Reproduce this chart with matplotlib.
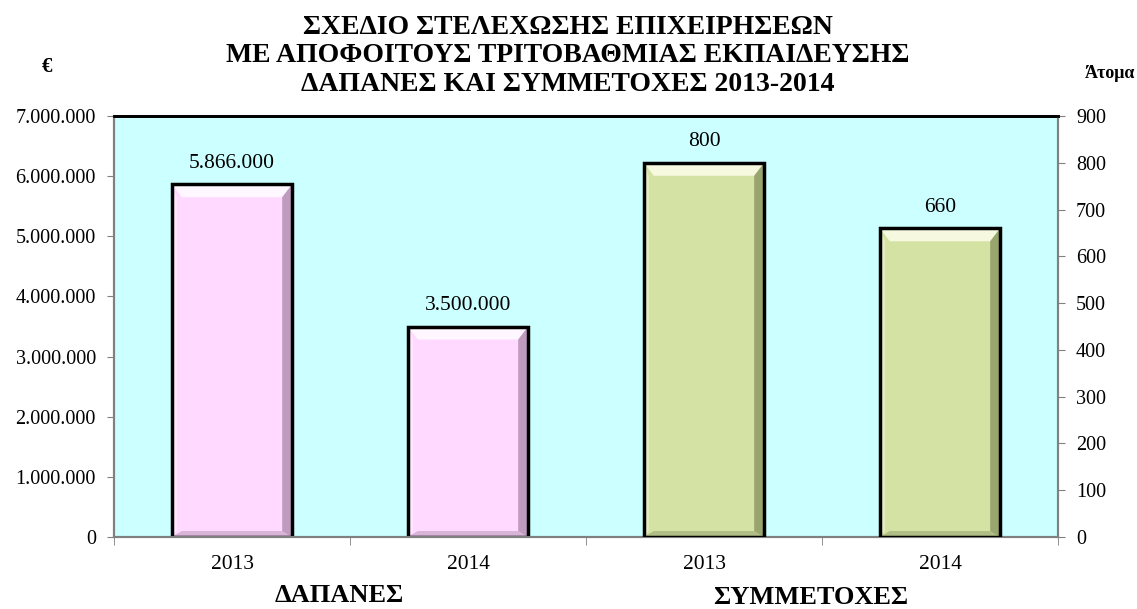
import matplotlib.pyplot as plt
import numpy as np
from matplotlib.patches import Polygon

plt.rcParams['font.family'] = ['Liberation Serif', 'DejaVu Serif']

years = ['2013', '2014', '2013', '2014']
spending = [5866000, 3500000]
participants = [800, 660]
spending_labels = ['5.866.000', '3.500.000']
left_ticks = np.arange(0, 7000001, 1000000)
right_ticks = np.arange(0, 901, 100)
title_lines = ['ΣΧΕΔΙΟ ΣΤΕΛΕΧΩΣΗΣ ΕΠΙΧΕΙΡΗΣΕΩΝ',
               'ΜΕ ΑΠΟΦΟΙΤΟΥΣ ΤΡΙΤΟΒΑΘΜΙΑΣ ΕΚΠΑΙΔΕΥΣΗΣ',
               'ΔΑΠΑΝΕΣ ΚΑΙ ΣΥΜΜΕΤΟΧΕΣ 2013-2014']


def dotted(v):
    return f'{int(v):,}'.replace(',', '.')


def bevel(a, bar, light, dark, depth=10):
    # fake 3D bevel, depth in pixels, converted to data units
    x0, y0 = a.transData.transform((0, 0))
    x1, y1 = a.transData.transform((1, 1))
    dx = depth / (x1 - x0)
    dy = depth / (y1 - y0)
    l, r = bar.get_x(), bar.get_x() + bar.get_width()
    b, t = 0, bar.get_height()
    top = [(l, t), (r, t), (r - dx, t - dy * 1.3), (l + dx, t - dy * 1.3)]
    right = [(r, t), (r, b), (r - dx, b + dy * 0.6), (r - dx, t - dy * 1.3)]
    bottom = [(l, b), (r, b), (r - dx, b + dy * 0.6), (l + dx, b + dy * 0.6)]
    left = [(l, t), (l, b), (l + dx * 0.5, b + dy * 0.6), (l + dx * 0.5, t - dy * 1.3)]
    a.add_patch(Polygon(top, closed=True, color=light, alpha=0.8, lw=0, zorder=4))
    a.add_patch(Polygon(left, closed=True, color=light, alpha=0.4, lw=0, zorder=4))
    a.add_patch(Polygon(right, closed=True, color=dark, alpha=0.5, lw=0, zorder=4))
    a.add_patch(Polygon(bottom, closed=True, color=dark, alpha=0.3, lw=0, zorder=4))


fig = plt.figure(figsize=(11.37, 6.09), dpi=100)
ax = fig.add_axes([114 / 1137, 1 - 537 / 609, 944 / 1137, 421 / 609])
ax2 = ax.twinx()
ax.set_facecolor('#CCFFFF')

x = np.arange(4)
b1 = ax.bar(x[:2], spending, width=0.51, color='#FFD9FF', edgecolor='none', zorder=3)
b2 = ax2.bar(x[2:], participants, width=0.51, color='#D4E2A4', edgecolor='none', zorder=3)

ax.set_ylim(0, 7000000)
ax2.set_ylim(0, 900)
ax.set_xlim(-0.5, 3.5)
ax.set_yticks(left_ticks)
ax.set_yticklabels([dotted(v) for v in left_ticks])
ax2.set_yticks(right_ticks)
ax.set_xticks(x)
ax.set_xticklabels(years)
ax.set_xticks(np.arange(-0.5, 4, 1), minor=True)
ax.tick_params(axis='x', which='major', length=0, labelsize=15.5, pad=13)
ax.tick_params(axis='x', which='minor', length=6, color='#808080')
ax.tick_params(axis='y', labelsize=14.5, color='#808080', length=5, pad=8)
ax2.tick_params(axis='y', labelsize=14.5, color='#808080', length=5, pad=8)

for a in (ax, ax2):
    for s in ('left', 'right', 'bottom'):
        a.spines[s].set_color('#808080')
        a.spines[s].set_linewidth(1.5)
    a.spines['top'].set_color('black')
    a.spines['top'].set_linewidth(2)

for bar in b1:
    bevel(ax, bar, '#FFFFFF', '#806080')
for bar in b2:
    bevel(ax2, bar, '#FFFFF0', '#5E6A3C')
for bar in b1:
    ax.bar(bar.get_x() + bar.get_width() / 2, bar.get_height(), width=bar.get_width(),
           fill=False, edgecolor='black', linewidth=2.5, zorder=5)
for bar in b2:
    ax2.bar(bar.get_x() + bar.get_width() / 2, bar.get_height(), width=bar.get_width(),
            fill=False, edgecolor='black', linewidth=2.5, zorder=5)

for bar, lab in zip(b1, spending_labels):
    ax.text(bar.get_x() + bar.get_width() / 2, bar.get_height() + 190000, lab,
            ha='center', va='bottom', fontsize=15.5)
for bar, v in zip(b2, participants):
    ax2.text(bar.get_x() + bar.get_width() / 2, bar.get_height() + 25, str(v),
             ha='center', va='bottom', fontsize=15.5)

for i, line in enumerate(title_lines):
    fig.text(568 / 1137, 1 - (34 + 28.5 * i) / 609, line, ha='center', va='baseline',
             fontsize=20, fontweight='bold')
fig.text(47 / 1137, 1 - 67 / 609, '€', ha='center', va='center', fontsize=15, fontweight='bold')
fig.text(1110 / 1137, 1 - 73 / 609, 'Άτομα', ha='center', va='center', fontsize=13, fontweight='bold')
fig.text(339 / 1137, 1 - 596 / 609, 'ΔΑΠΑΝΕΣ', ha='center', va='center', fontsize=19, fontweight='bold')
fig.text(811 / 1137, 1 - 597 / 609, 'ΣΥΜΜΕΤΟΧΕΣ', ha='center', va='center', fontsize=19, fontweight='bold')

fig.savefig('out.png', dpi=100)
